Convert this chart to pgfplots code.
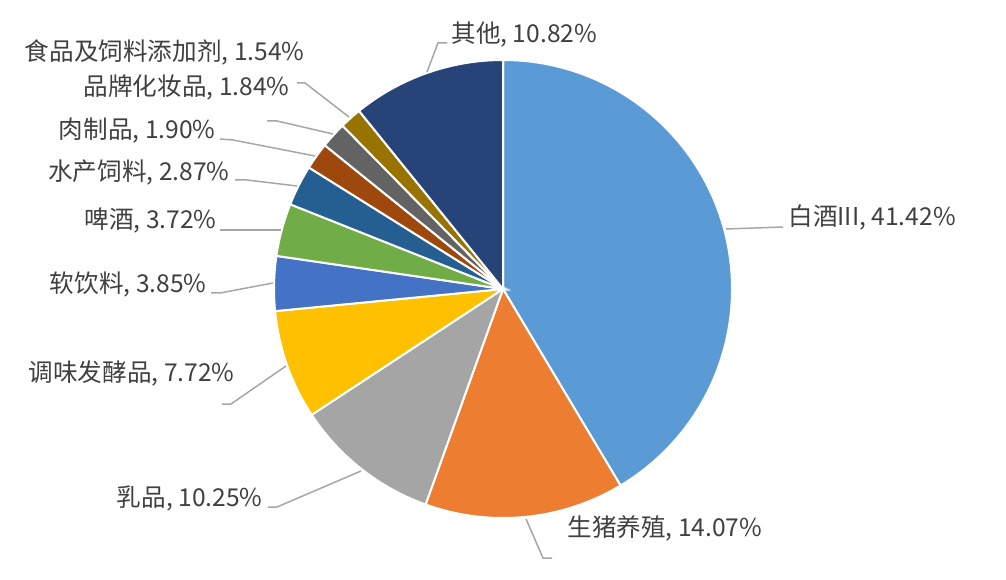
\documentclass[border=0pt]{standalone}
\usepackage{pgfplots}
\pgfplotsset{compat=1.18}
\usepackage{pgfplotstable}
\usepackage{fontspec}
\setmainfont{Noto Sans CJK SC}

\definecolor{s1}{HTML}{5B9BD5}
\definecolor{s2}{HTML}{ED7D31}
\definecolor{s3}{HTML}{A5A5A5}
\definecolor{s4}{HTML}{FFC000}
\definecolor{s5}{HTML}{4472C4}
\definecolor{s6}{HTML}{70AD47}
\definecolor{s7}{HTML}{255E91}
\definecolor{s8}{HTML}{9E480E}
\definecolor{s9}{HTML}{636363}
\definecolor{s10}{HTML}{997300}
\definecolor{s11}{HTML}{264478}
\definecolor{txt}{HTML}{404040}
\definecolor{lead}{HTML}{A6A6A6}

% share of each segment, clockwise from 12 o'clock
\pgfplotstableread[col sep=comma]{
share,color
41.42,s1
14.07,s2
10.25,s3
7.72,s4
3.85,s5
3.72,s6
2.87,s7
1.90,s8
1.84,s9
1.54,s10
10.82,s11
}\piedata

\begin{document}
\begin{tikzpicture}
\begin{axis}[
    scale only axis,
    width=503pt, height=289.5pt,
    xmin=0, xmax=1006, ymin=0, ymax=579,
    hide axis,
    clip=false,
  ]
  \path (axis cs:0,0) rectangle (axis cs:1006,579);

  % slices
  \def\cum{0}
  \pgfplotsforeachungrouped \i in {0,...,10}{%
    \pgfplotstablegetelem{\i}{share}\of\piedata \let\val\pgfplotsretval
    \pgfplotstablegetelem{\i}{color}\of\piedata \let\col\pgfplotsretval
    \pgfmathsetmacro\pa{90-3.6*\cum}
    \pgfmathsetmacro\cum{\cum+\val}
    \pgfmathsetmacro\pb{90-3.6*\cum}
    \edef\tmp{\noexpand\fill[fill=\col, draw=white, line width=1pt]
      (axis cs:503,290) -- ++(\pa:114.5pt)
      arc[start angle=\pa, end angle=\pb, radius=114.5pt] -- cycle;}
    \tmp
  }

  % leader lines
  \begin{scope}[draw=lead, line width=0.75pt]
    \draw (axis cs:726,350) -- (axis cs:783,352);
    \draw (axis cs:526,60) -- (axis cs:543,21) -- (axis cs:552,21);
    \draw (axis cs:268,72) -- (axis cs:277,72) -- (axis cs:361,108);
    \draw (axis cs:222,175) -- (axis cs:231,175) -- (axis cs:286,213);
    \draw (axis cs:211,286) -- (axis cs:220,286) -- (axis cs:273,296);
    \draw (axis cs:220,349) -- (axis cs:281,349);
    \draw (axis cs:235,399) -- (axis cs:247,399) -- (axis cs:297,393);
    \draw (axis cs:220,440) -- (axis cs:233,439) -- (axis cs:315,423);
    \draw (axis cs:267,458) -- (axis cs:277,458) -- (axis cs:333,445);
    \draw (axis cs:297,496) -- (axis cs:305,496) -- (axis cs:349,462);
    \draw (axis cs:447,536) -- (axis cs:438,536) -- (axis cs:427,507);
  \end{scope}

  % labels
  \begin{scope}[every node/.style={inner sep=0pt, text=txt,
      font=\fontsize{12.3pt}{14pt}\selectfont}]
    \node[anchor=west] at (axis cs:788,362) {白酒III, 41.42\%};
    \node[anchor=west] at (axis cs:567,51) {生猪养殖, 14.07\%};
    \node[anchor=east] at (axis cs:263,81) {乳品, 10.25\%};
    \node[anchor=east] at (axis cs:235,206) {调味发酵品, 7.72\%};
    \node[anchor=east] at (axis cs:207,295) {软饮料, 3.85\%};
    \node[anchor=east] at (axis cs:217,358) {啤酒, 3.72\%};
    \node[anchor=east] at (axis cs:230,407) {水产饲料, 2.87\%};
    \node[anchor=east] at (axis cs:216,448) {肉制品, 1.90\%};
    \node[anchor=east] at (axis cs:290,492) {品牌化妆品, 1.84\%};
    \node[anchor=east] at (axis cs:305,527) {食品及饲料添加剂, 1.54\%};
    \node[anchor=west] at (axis cs:451,544) {其他, 10.82\%};
  \end{scope}
\end{axis}
\end{tikzpicture}
\end{document}
